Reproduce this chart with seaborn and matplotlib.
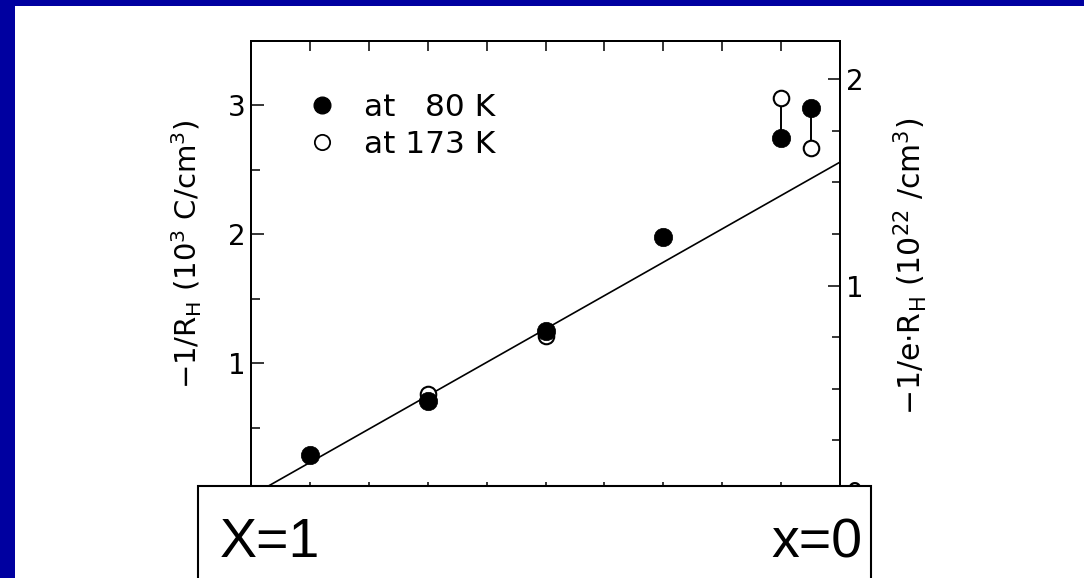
import matplotlib
matplotlib.use("Agg")
import matplotlib.pyplot as plt
from matplotlib.patches import Rectangle
from matplotlib.lines import Line2D
from matplotlib.ticker import MultipleLocator, FixedLocator, NullFormatter
import numpy as np
import pandas as pd
import seaborn as sns

# Hall data: Sr content x versus -1/R_H (10^3 C/cm^3)
comp_80 = [0.9, 0.7, 0.5, 0.3, 0.1, 0.05]
rh_80 = [0.29, 0.71, 1.25, 1.98, 2.75, 2.98]
comp_173 = [0.7, 0.5, 0.1, 0.05]
rh_173 = [0.76, 1.21, 3.06, 2.67]

# linear fit through the low-temperature points
fit_x = [1.0, 0.0]
fit_y = [-0.03, 2.56]

# pairs joined by a bar where the two temperatures split
pair_x = [0.1, 0.05]
pair_lo = [2.75, 2.67]
pair_hi = [3.06, 2.98]

# conversion -1/R_H (10^3 C/cm^3) -> carrier density (10^22 /cm^3)
to_density = 1e3 / 1.602e-19 / 1e22

sns.set_theme(style="white")
plt.rcParams["font.family"] = ["DejaVu Sans"]
plt.rcParams["mathtext.fontset"] = "dejavusans"

W, H = 1084, 578
fig = plt.figure(figsize=(W / 100, H / 100), dpi=100, facecolor="white")

def fx(px):
    return px / W

def fy(py):
    return 1 - py / H

ax_l, ax_r, ax_t, ax_b = 251, 840, 41, 492
ax = fig.add_axes([fx(ax_l), fy(ax_b), fx(ax_r - ax_l), (ax_b - ax_t) / H])
ax.set_facecolor("white")

df80 = pd.DataFrame({"x": comp_80, "y": rh_80})
df173 = pd.DataFrame({"x": comp_173, "y": rh_173})
dfit = pd.DataFrame({"x": fit_x, "y": fit_y})

sns.lineplot(data=dfit, x="x", y="y", ax=ax, color="black", lw=1.2, zorder=2)
ax.vlines(pair_x, pair_lo, pair_hi, color="black", lw=1.4, zorder=2)
sns.scatterplot(data=df173, x="x", y="y", ax=ax, marker="o", s=125,
                facecolor="white", edgecolor="black", linewidth=1.5, zorder=3)
sns.scatterplot(data=df80, x="x", y="y", ax=ax, marker="o", s=175,
                color="black", edgecolor="black", linewidth=0.5, zorder=4)

ax.set_xlim(1.0, 0.0)
ax.set_ylim(0, 3.5)
ax.set_xlabel("")
ax.set_ylabel("")

for sp in ax.spines.values():
    sp.set_color("black")
    sp.set_linewidth(1.4)

ax.xaxis.set_major_locator(MultipleLocator(0.1))
ax.xaxis.set_major_formatter(NullFormatter())
ax.tick_params(axis="x", which="major", direction="in", top=True, bottom=True,
               length=7.5, width=1.1, color="black")
ax.yaxis.set_major_locator(FixedLocator([1, 2, 3]))
ax.yaxis.set_minor_locator(MultipleLocator(0.5))
ax.tick_params(axis="y", which="major", direction="in", left=True, right=False,
               length=9, width=1.1, color="black", labelsize=20, pad=4,
               labelcolor="black")
ax.tick_params(axis="y", which="minor", direction="in", left=True, right=False,
               length=6.5, width=1.1, color="black")

ax2 = ax.twinx()
ax2.set_ylim(0, 3.5 * to_density)
ax2.yaxis.set_major_locator(FixedLocator([0, 1, 2]))
ax2.yaxis.set_minor_locator(MultipleLocator(0.25))
ax2.tick_params(axis="y", which="major", direction="in", right=True, left=False,
                length=9, width=1.1, color="black", labelsize=20, pad=4,
                labelcolor="black")
ax2.tick_params(axis="y", which="minor", direction="in", right=True, left=False,
                length=6, width=1.1, color="black")
for sp in ax2.spines.values():
    sp.set_color("black")
    sp.set_linewidth(1.4)
ax2.grid(False)
ax.grid(False)

handles = [
    Line2D([], [], ls="none", marker="o", ms=12, mfc="black", mec="black"),
    Line2D([], [], ls="none", marker="o", ms=11, mfc="white", mec="black", mew=1.3),
]
ax.legend(handles, ["at   80 K", "at 173 K"], loc="upper left",
          bbox_to_anchor=(0.073, 0.913), frameon=False, fontsize=22.5,
          handletextpad=0.85, labelspacing=0.27, handlelength=1.0,
          borderaxespad=0.0, labelcolor="black")

fig.text(fx(187), fy(254), r"$-$1/R$_\mathrm{H}$ (10$^3$ C/cm$^3$)",
         rotation=90, ha="center", va="center", fontsize=21, color="black")
fig.text(fx(910), fy(266), r"$-$1/e$\cdot$R$_\mathrm{H}$ (10$^{22}$ /cm$^3$)",
         rotation=90, ha="center", va="center", fontsize=21.5, color="black")

# composition end-point panel
fig.patches.append(Rectangle((fx(198), -0.05), fx(871 - 198), fy(486) + 0.05,
                             transform=fig.transFigure, facecolor="white",
                             edgecolor="black", lw=1.5, zorder=10))
fig.text(fx(220), fy(557), "X=1", fontsize=40, family=["Liberation Sans"],
         ha="left", va="baseline", color="black", zorder=11)
fig.text(fx(862), fy(557), "x=0", fontsize=40, family=["Liberation Sans"],
         ha="right", va="baseline", color="black", zorder=11)

# slide frame
navy = "#0000A0"
fig.patches.append(Rectangle((0, 0), fx(15), 1, transform=fig.transFigure,
                             facecolor=navy, edgecolor="none", zorder=12))
fig.patches.append(Rectangle((0, fy(6)), 1, 6 / H, transform=fig.transFigure,
                             facecolor=navy, edgecolor="none", zorder=12))

fig.savefig("out.png", dpi=100, facecolor="white")
